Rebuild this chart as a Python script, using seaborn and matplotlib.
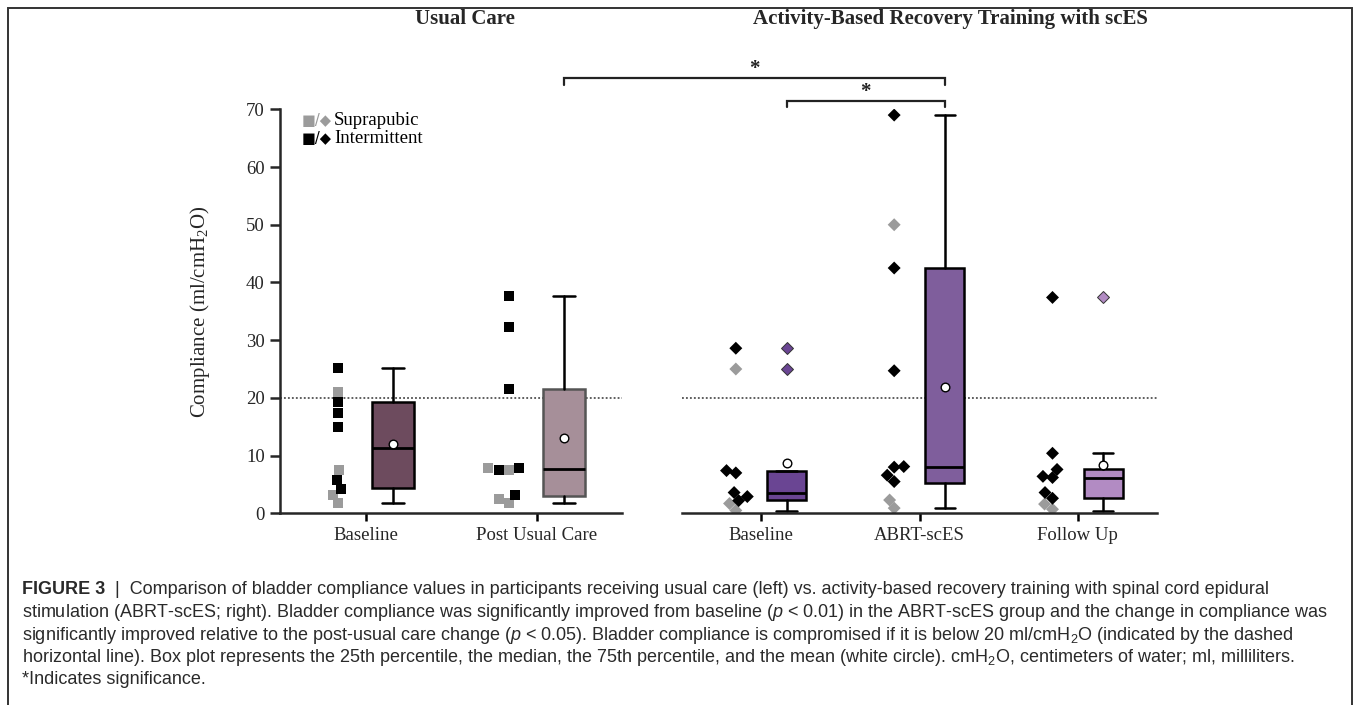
import numpy as np
import pandas as pd
import matplotlib
matplotlib.use("Agg")
import matplotlib.pyplot as plt
import seaborn as sns
from matplotlib.patches import Rectangle

# ---------------- data ----------------
uc_groups = ["Baseline", "Post Usual Care"]
ab_groups = ["Baseline", "ABRT-scES", "Follow Up"]

uc_supra = [[21.1, 7.5, 3.2, 1.7], [7.5, 7.9, 2.4, 1.8]]
uc_inter = [[25.1, 19.3, 17.4, 15.0, 5.8, 4.2], [37.7, 32.3, 21.5, 7.5, 7.8, 3.2]]

ab_supra = [[25.0, 1.7, 0.5], [50.0, 2.3, 0.9], [1.6, 0.7]]
ab_inter = [[28.6, 7.4, 7.0, 3.6, 2.9, 2.2],
            [69.0, 42.5, 24.7, 8.0, 8.1, 6.6, 5.5],
            [37.4, 10.4, 7.6, 6.2, 6.4, 3.6, 2.6]]

# box statistics (25th pct, median, 75th pct, whiskers, mean, outliers)
uc_q1 = [4.3, 3.05]
uc_med = [11.3, 7.6]
uc_q3 = [19.2, 21.5]
uc_lo = [1.7, 1.7]
uc_hi = [25.1, 37.7]
uc_mean = [12.0, 13.0]
uc_out = [[], []]

ab_q1 = [2.3, 5.3, 2.6]
ab_med = [3.6, 8.1, 6.1]
ab_q3 = [7.3, 42.5, 7.6]
ab_lo = [0.45, 0.9, 0.4]
ab_hi = [7.4, 69.0, 10.4]
ab_mean = [8.7, 21.8, 8.4]
ab_out = [[28.6, 25.0], [], [37.4]]

threshold = 20
y_ticks = [0, 10, 20, 30, 40, 50, 60, 70]

# ---------------- style ----------------
sns.set_style("ticks")
plt.rcParams["font.family"] = ["Liberation Serif", "DejaVu Serif"]
plt.rcParams["mathtext.fontset"] = "custom"
plt.rcParams["mathtext.rm"] = "Liberation Serif"
plt.rcParams["mathtext.sf"] = "Liberation Sans"
plt.rcParams["mathtext.it"] = "Liberation Sans:italic"

uc_colors = ["#6d4b5e", "#a68f99"]
ab_colors = ["#6a4593", "#7f5e9c", "#b28bc3"]
type_palette = {"Suprapubic": "#9b9b9b", "Intermittent": "#000000"}
PT_OFF = -0.16
BOX_OFF = 0.16

W, H = 1356, 705
fig = plt.figure(figsize=(W / 100, H / 100), dpi=100)
ax_bottom = (H - 513.3) / H
ax_h = 404 / H
axL = fig.add_axes([280 / W, ax_bottom, 342 / W, ax_h])
axR = fig.add_axes([682 / W, ax_bottom, 475 / W, ax_h])


def long_df(supra, inter):
    rows = []
    for i, (s, t) in enumerate(zip(supra, inter)):
        for v in s:
            rows.append((i + PT_OFF, v, "Suprapubic"))
        for v in t:
            rows.append((i + PT_OFF, v, "Intermittent"))
    return pd.DataFrame(rows, columns=["xpos", "value", "type"])


def draw_boxes(ax, q1, med, q3, lo, hi, mean, out, colors):
    stats = [dict(q1=a, med=b, q3=c, whislo=d, whishi=e, mean=f, fliers=g)
             for a, b, c, d, e, f, g in zip(q1, med, q3, lo, hi, mean, out)]
    bp = ax.bxp(stats, positions=np.arange(len(stats)) + BOX_OFF, widths=0.245,
                patch_artist=True, showmeans=True, capwidths=0.13,
                meanprops=dict(marker="o", markerfacecolor="white",
                               markeredgecolor="black", markersize=6.2,
                               markeredgewidth=1.0),
                medianprops=dict(color="black", lw=2),
                whiskerprops=dict(color="black", lw=1.8),
                capprops=dict(color="black", lw=1.8),
                boxprops=dict(lw=1.8, edgecolor="black"),
                flierprops=dict(marker="D", markersize=6.6,
                                markeredgecolor="#333333", markeredgewidth=0.7),
                zorder=3)
    for patch, c in zip(bp["boxes"], colors):
        patch.set_facecolor(c)
    for fl, c in zip(bp["fliers"], colors):
        fl.set_markerfacecolor(c)
    return bp


# left panel: usual care
dfL = long_df(uc_supra, uc_inter)
sns.swarmplot(data=dfL, x="xpos", y="value", hue="type", palette=type_palette,
              native_scale=True, orient="x", marker="s", size=7.2,
              linewidth=0, ax=axL, legend=False, zorder=4)
bpL = draw_boxes(axL, uc_q1, uc_med, uc_q3, uc_lo, uc_hi, uc_mean, uc_out, uc_colors)
bpL["boxes"][1].set_edgecolor("#555555")

# right panel: ABRT-scES
dfR = long_df(ab_supra, ab_inter)
sns.swarmplot(data=dfR, x="xpos", y="value", hue="type", palette=type_palette,
              native_scale=True, orient="x", marker="D", size=6.6,
              linewidth=0, ax=axR, legend=False, zorder=4)
draw_boxes(axR, ab_q1, ab_med, ab_q3, ab_lo, ab_hi, ab_mean, ab_out, ab_colors)

for ax, groups in ((axL, uc_groups), (axR, ab_groups)):
    ax.set_xlim(-0.5, len(groups) - 0.5)
    ax.set_ylim(0, 70)
    ax.set_xticks(range(len(groups)))
    ax.set_xticklabels(groups, fontsize=13.5)
    ax.set_xlabel("")
    ax.set_ylabel("")
    ax.axhline(threshold, color="#333333", lw=1.1, ls=(0, (1.2, 1.4)), zorder=1)
    ax.tick_params(axis="x", length=6, width=1.8, pad=4, color="black")
    for s in ("top", "right"):
        ax.spines[s].set_visible(False)
    ax.spines["bottom"].set_linewidth(1.8)
    ax.spines["bottom"].set_zorder(5)
    ax.set_facecolor("none")

axL.set_yticks(y_ticks)
axL.set_yticklabels([str(t) for t in y_ticks], fontsize=13.5)
axL.tick_params(axis="y", length=7, width=1.8, pad=4)
axL.spines["left"].set_linewidth(1.8)
axL.set_ylabel("Compliance (ml/cmH$_2$O)", fontsize=15)
axL.yaxis.set_label_coords((212 - 280) / 342, 0.5)

axR.spines["left"].set_visible(False)
axR.set_yticks([])

# legend
leg_rows = [("Suprapubic", type_palette["Suprapubic"], 68.0),
            ("Intermittent", type_palette["Intermittent"], 65.0)]
for label, col, yv in leg_rows:
    axL.text(0.063, yv, "■/◆", color=col, fontsize=10.5, family=["DejaVu Sans"],
             va="center", ha="left", transform=axL.get_yaxis_transform())
    axL.text(0.158, yv, label, color="black", fontsize=13.5, va="center",
             ha="left", transform=axL.get_yaxis_transform())

# panel titles
axL.text((465 - 280) / 342, (513.3 - 19) / 404, "Usual Care", transform=axL.transAxes,
         ha="center", va="center", fontsize=15, fontweight="bold")
axR.text((950 - 682) / 475, (513.3 - 19) / 404,
         "Activity-Based Recovery Training with scES", transform=axR.transAxes,
         ha="center", va="center", fontsize=15, fontweight="bold")

# significance brackets (drawn on right axes, left end mapped from left axes)
fig.canvas.draw()
post_box_x = axR.transData.inverted().transform(
    axL.transData.transform((1 + BOX_OFF, 0)))[0]
abrt_box_x = 1 + BOX_OFF
base_box_x = 0 + BOX_OFF
brackets = [(post_box_x, abrt_box_x, 75.4, 74.2, 77.0),
            (base_box_x, abrt_box_x, 71.5, 70.4, 73.0)]
for x0, x1, ytop, ybot, ystar in brackets:
    axR.plot([x0, x0, x1, x1], [ybot, ytop, ytop, ybot], color="#222222", lw=1.6,
             clip_on=False, solid_joinstyle="miter")
    axR.text((x0 + x1) / 2, ystar, "*", ha="center", va="center", fontsize=15,
             fontweight="bold", color="#222222", clip_on=False)

# frame around figure + caption
fig.add_artist(Rectangle((8 / W, -0.02), (1352 - 8) / W, 1 - 8 / H + 0.02,
                         transform=fig.transFigure, fill=False,
                         edgecolor="#333333", lw=1.4))

cap_family = ["Liberation Sans", "DejaVu Sans"]
cap_fs = 13.0
cap_color = "#2a2a2a"
cap_x = 22 / W
line_y = [589, 612, 635, 657, 679]
base_dy = 5
t0 = fig.text(cap_x, 1 - (line_y[0] + base_dy) / H, "FIGURE 3", fontsize=cap_fs,
              family=cap_family, fontweight="bold", color=cap_color,
              va="baseline", ha="left")
fig.canvas.draw()
bb = t0.get_window_extent()
fig.text(bb.x1 / W, 1 - (line_y[0] + base_dy) / H,
         "  |  Comparison of bladder compliance values in participants receiving usual care "
         "(left) vs. activity-based recovery training with spinal cord epidural",
         fontsize=cap_fs, family=cap_family, color=cap_color, va="baseline", ha="left")
caption_rest = [
    "stimulation (ABRT-scES; right). Bladder compliance was significantly improved from "
    "baseline ($\\mathit{p}$ < 0.01) in the ABRT-scES group and the change in compliance was",
    "significantly improved relative to the post-usual care change ($\\mathit{p}$ < 0.05). "
    "Bladder compliance is compromised if it is below 20 ml/cmH$_{\\mathsf{2}}$O (indicated by the dashed",
    "horizontal line). Box plot represents the 25th percentile, the median, the 75th percentile, "
    "and the mean (white circle). cmH$_{\\mathsf{2}}$O, centimeters of water; ml, milliliters.",
    "*Indicates significance.",
]
for txt, yy in zip(caption_rest, line_y[1:]):
    fig.text(cap_x, 1 - (yy + base_dy) / H, txt, fontsize=cap_fs, family=cap_family,
             color=cap_color, va="baseline", ha="left")

fig.savefig("out.png", dpi=100)
